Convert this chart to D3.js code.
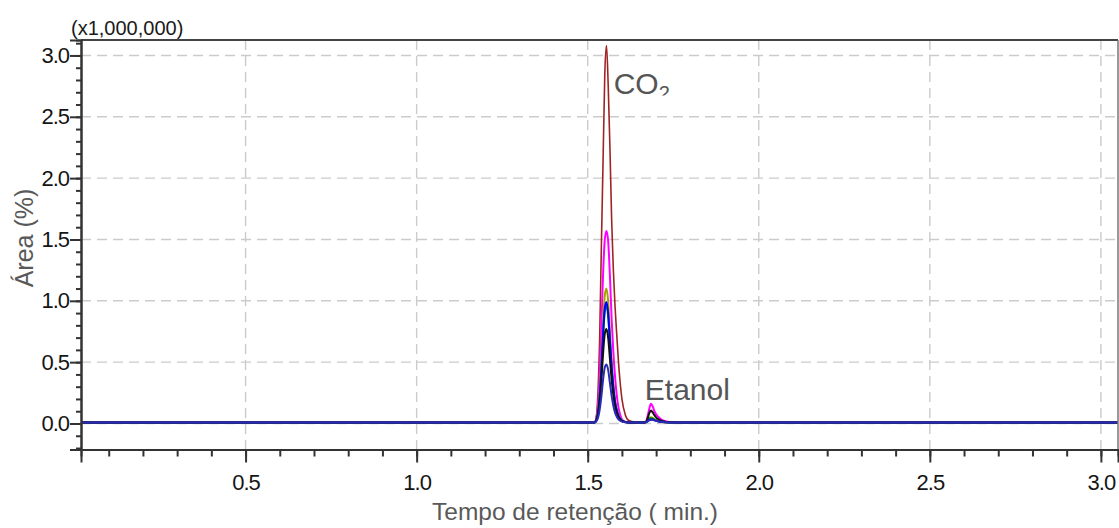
<!DOCTYPE html>
<html>
<head>
<meta charset="utf-8">
<script src="https://cdn.jsdelivr.net/npm/d3@7"></script>
<style>
  html, body { margin: 0; padding: 0; background: #fff; }
  svg { display: block; }
  text { font-family: "Liberation Sans", Arial, sans-serif; }
</style>
</head>
<body>
<svg id="chart" width="1119" height="528"></svg>
<script>
// Retention times (min) shared by every trace
const times = [0.02, 1.50, 1.52, 1.525, 1.53, 1.535, 1.54, 1.545, 1.55, 1.555, 1.56, 1.565, 1.57, 1.575, 1.58, 1.585, 1.59, 1.595, 1.60, 1.61, 1.62, 1.64, 1.66, 1.67, 1.675, 1.68, 1.685, 1.69, 1.695, 1.70, 1.71, 1.72, 1.74, 1.80, 3.05];

// Signal of each run (x1,000,000)
const runBrown   = [0.008, 0.008, 0.012, 0.05, 0.25, 0.70, 1.45, 2.15, 2.85, 3.08, 2.75, 2.25, 1.66, 1.25, 0.95, 0.72, 0.50, 0.33, 0.20, 0.07, 0.025, 0.012, 0.010, 0.012, 0.02, 0.035, 0.04, 0.035, 0.028, 0.022, 0.015, 0.011, 0.009, 0.008, 0.008];
const runMagenta = [0.008, 0.008, 0.01, 0.04, 0.15, 0.40, 0.80, 1.22, 1.50, 1.57, 1.48, 1.20, 0.85, 0.58, 0.38, 0.23, 0.13, 0.07, 0.035, 0.012, 0.008, 0.008, 0.008, 0.015, 0.06, 0.12, 0.16, 0.14, 0.10, 0.075, 0.045, 0.025, 0.012, 0.008, 0.008];
const runOlive   = [0.008, 0.008, 0.008, 0.03, 0.095, 0.25, 0.50, 0.82, 1.045, 1.10, 0.99, 0.75, 0.51, 0.325, 0.19, 0.117, 0.068, 0.041, 0.024, 0.013, 0.008, 0.008, 0.008, 0.01, 0.025, 0.045, 0.05, 0.045, 0.035, 0.027, 0.018, 0.012, 0.009, 0.008, 0.008];
const runGreen   = [0.008, 0.008, 0.008, 0.027, 0.084, 0.217, 0.436, 0.712, 0.912, 0.96, 0.865, 0.655, 0.446, 0.284, 0.17, 0.103, 0.06, 0.037, 0.022, 0.013, 0.008, 0.008, 0.008, 0.01, 0.022, 0.04, 0.045, 0.04, 0.032, 0.025, 0.017, 0.012, 0.009, 0.008, 0.008];
const runBlue    = [0.008, 0.008, 0.008, 0.028, 0.087, 0.224, 0.45, 0.735, 0.94, 0.99, 0.892, 0.675, 0.46, 0.293, 0.175, 0.106, 0.062, 0.038, 0.023, 0.013, 0.008, 0.008, 0.008, 0.01, 0.02, 0.03, 0.035, 0.033, 0.028, 0.022, 0.016, 0.012, 0.009, 0.008, 0.008];
const runBlack   = [0.008, 0.008, 0.008, 0.023, 0.069, 0.176, 0.351, 0.572, 0.732, 0.77, 0.694, 0.526, 0.358, 0.229, 0.138, 0.084, 0.05, 0.031, 0.019, 0.012, 0.008, 0.008, 0.008, 0.012, 0.04, 0.085, 0.105, 0.09, 0.068, 0.05, 0.03, 0.018, 0.01, 0.008, 0.008];
const runNavy    = [0.008, 0.008, 0.008, 0.017, 0.046, 0.112, 0.220, 0.357, 0.456, 0.48, 0.433, 0.329, 0.225, 0.145, 0.088, 0.055, 0.034, 0.022, 0.015, 0.01, 0.008, 0.008, 0.008, 0.01, 0.018, 0.026, 0.03, 0.029, 0.026, 0.022, 0.016, 0.012, 0.009, 0.008, 0.008];

const runs = [
  { values: runBrown,   color: "#9e2424", width: 1.6 },
  { values: runMagenta, color: "#ff00ff", width: 2 },
  { values: runOlive,   color: "#a3a300", width: 2 },
  { values: runGreen,   color: "#009a00", width: 2 },
  { values: runBlue,    color: "#0000ff", width: 2 },
  { values: runBlack,   color: "#111111", width: 2 },
  { values: runNavy,    color: "#2a2ab8", width: 2 }
];

// Axis ticks
const xMajorTicks = [0.5, 1.0, 1.5, 2.0, 2.5, 3.0];
const yMajorTicks = [0.0, 0.5, 1.0, 1.5, 2.0, 2.5, 3.0];
const xMinorTicks = d3.range(1, 31).map(i => i / 10);
const yMinorTicks = d3.range(-2, 32).map(i => i / 10);

// Peak labels
const peakLabels = [
  { name: "CO", sub: "2", t: 1.576, v: 2.685 },
  { name: "Etanol", sub: "", t: 1.667, v: 0.19 }
];

const svg = d3.select("#chart");
const m = { left: 81, right: 1118, top: 40, bottom: 449.5 };

const x = d3.scaleLinear().domain([0.019, 3.05]).range([m.left, m.right]);
const y = d3.scaleLinear().domain([-0.212, 3.126]).range([m.bottom, m.top]);

// Dashed grid
const grid = svg.append("g").attr("stroke", "#cbcbcb").attr("stroke-width", 1.4).attr("stroke-dasharray", "10,6");
grid.selectAll("line.v").data(xMajorTicks).join("line").attr("class", "v")
  .attr("x1", d => x(d)).attr("x2", d => x(d)).attr("y1", m.top).attr("y2", m.bottom);
grid.selectAll("line.h").data(yMajorTicks).join("line").attr("class", "h")
  .attr("x1", m.left).attr("x2", m.right).attr("y1", d => y(d)).attr("y2", d => y(d));

// Traces
const plot = svg.append("g");
plot.append("clipPath").attr("id", "plotClip").append("rect")
  .attr("x", m.left).attr("y", m.top).attr("width", m.right - m.left).attr("height", m.bottom - m.top);
const line = d3.line().x(d => x(d[0])).y(d => y(d[1])).curve(d3.curveMonotoneX);
plot.selectAll("path").data(runs).join("path")
  .attr("clip-path", "url(#plotClip)")
  .attr("fill", "none")
  .attr("stroke", d => d.color)
  .attr("stroke-width", d => d.width)
  .attr("stroke-linejoin", "round")
  .attr("d", d => line(times.map((t, i) => [t, d.values[i]])));

// Frame: top and right borders
svg.append("line").attr("x1", m.left).attr("x2", m.right).attr("y1", m.top).attr("y2", m.top)
  .attr("stroke", "#444").attr("stroke-width", 2);
svg.append("line").attr("x1", m.right).attr("x2", m.right).attr("y1", m.top).attr("y2", m.bottom)
  .attr("stroke", "#777").attr("stroke-width", 1.5);

// Axes
const tickFont = g => g.selectAll("text")
  .attr("font-family", "'Liberation Sans', Arial, sans-serif")
  .attr("font-size", 22).attr("letter-spacing", "-1px").attr("fill", "#151515");

const yMinor = svg.append("g").attr("transform", `translate(${m.left},0)`)
  .call(d3.axisLeft(y).tickValues(yMinorTicks).tickSize(5).tickFormat(""));
const yMajor = svg.append("g").attr("transform", `translate(${m.left},0)`)
  .call(d3.axisLeft(y).tickValues(yMajorTicks).tickSize(11).tickPadding(1).tickFormat(d3.format(".1f")))
  .call(tickFont);
const xMinor = svg.append("g").attr("transform", `translate(0,${m.bottom})`)
  .call(d3.axisBottom(x).tickValues(xMinorTicks).tickSize(7).tickFormat(""));
const xMajor = svg.append("g").attr("transform", `translate(0,${m.bottom})`)
  .call(d3.axisBottom(x).tickValues(xMajorTicks).tickSize(13).tickPadding(7).tickFormat(d3.format(".1f")))
  .call(tickFont);

[yMinor, yMajor, xMinor, xMajor].forEach(g => {
  g.selectAll("line").attr("stroke", "#333").attr("stroke-width", 2);
  g.select(".domain").attr("stroke", "#333").attr("stroke-width", 2);
});
xMajor.selectAll("text").attr("dy", "0.95em");

// Multiplier
svg.append("text").attr("x", 71).attr("y", 35)
  .attr("font-size", 20).attr("fill", "#1a1a1a").text("(x1,000,000)");

// Axis titles
svg.append("text").attr("transform", "translate(33,238) rotate(-90)")
  .attr("text-anchor", "middle").attr("font-size", 25).attr("fill", "#595959")
  .text("Área (%)");
svg.append("text").attr("x", 575).attr("y", 520)
  .attr("text-anchor", "middle").attr("font-size", 24.5).attr("fill", "#595959")
  .text("Tempo de retenção ( min.)");

// Peak labels; the label box cuts off just under the baseline
svg.append("clipPath").attr("id", "labelClip").append("rect")
  .attr("x", 0).attr("y", 0).attr("width", 1119).attr("height", 95.5);
const labels = svg.append("g");
peakLabels.forEach(p => {
  const t = labels.append("text")
    .attr("x", x(p.t)).attr("y", y(p.v))
    .attr("font-size", 30).attr("fill", "#555");
  t.append("tspan").text(p.name);
  if (p.sub) {
    t.attr("clip-path", "url(#labelClip)");
    t.append("tspan").attr("font-size", 20).attr("dy", 6).text(p.sub);
  }
});
</script>
</body>
</html>
